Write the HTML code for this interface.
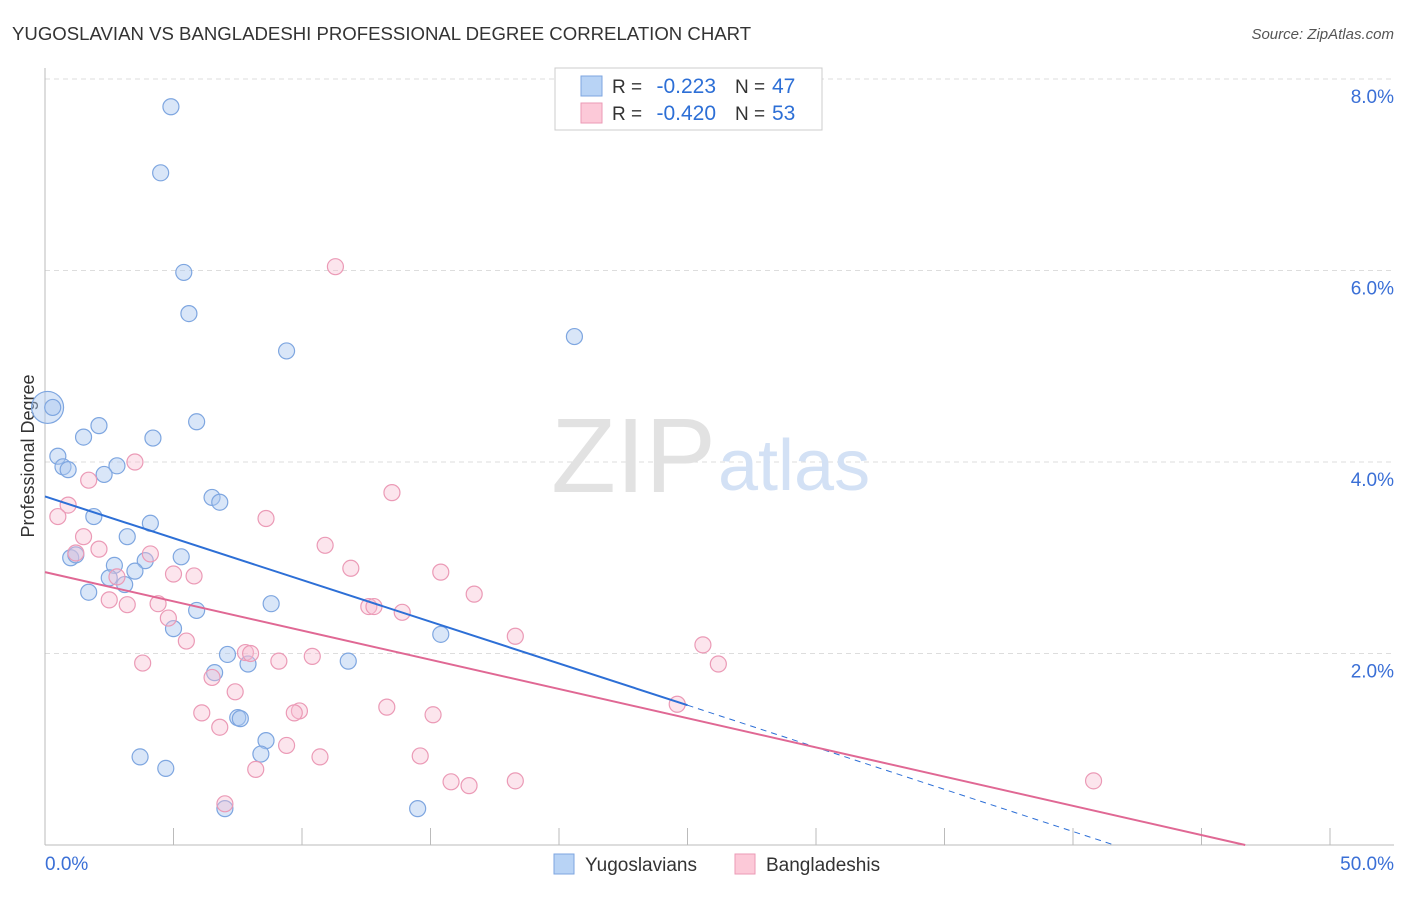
<!DOCTYPE html>
<html><head><meta charset="utf-8"><style>
body{margin:0;background:#fff;font-family:"Liberation Sans",sans-serif}
svg text{font-family:"Liberation Sans",sans-serif}
</style></head><body>
<svg id="c" width="1406" height="892"></svg>
<script>
const xTicks=[0,50];
const yTicks=[2,4,6,8];
const blueX=[4.9,4.5,5.4,5.6,9.4,20.6,0.1,0.3,5.9,2.1,1.5,4.2,0.5,0.7,0.9,2.8,2.3,6.5,6.8,1.9,4.1,3.2,5.3,3.9,1.0,1.2,2.7,3.5,2.5,3.1,1.7,5.9,8.8,5.0,15.4,7.1,11.8,6.6,7.9,7.5,7.6,8.6,8.4,3.7,4.7,7.0,14.5];
const blueY=[7.71,7.02,5.98,5.55,5.16,5.31,4.57,4.57,4.42,4.38,4.26,4.25,4.06,3.95,3.92,3.96,3.87,3.63,3.58,3.43,3.36,3.22,3.01,2.97,3.0,3.03,2.92,2.86,2.79,2.72,2.64,2.45,2.52,2.26,2.2,1.99,1.92,1.8,1.89,1.33,1.32,1.09,0.95,0.92,0.8,0.38,0.38];
const pinkX=[11.3,13.5,3.5,1.7,0.9,0.5,8.6,1.5,10.9,2.1,1.2,4.1,11.9,15.4,5.0,5.8,2.8,16.7,2.5,3.2,4.4,12.6,12.8,13.9,4.8,5.5,18.3,25.6,3.8,7.8,8.0,9.1,10.4,26.2,6.5,7.4,13.3,9.9,9.7,6.1,15.1,6.8,9.4,10.7,14.6,8.2,15.8,16.5,18.3,40.8,7.0,24.6];
const pinkY=[6.04,3.68,4.0,3.81,3.55,3.43,3.41,3.22,3.13,3.09,3.05,3.04,2.89,2.85,2.83,2.81,2.8,2.62,2.56,2.51,2.52,2.49,2.49,2.43,2.37,2.13,2.18,2.09,1.9,2.01,2.0,1.92,1.97,1.89,1.75,1.6,1.44,1.40,1.38,1.38,1.36,1.23,1.04,0.92,0.93,0.79,0.66,0.62,0.67,0.67,0.43,1.47];
const ns="http://www.w3.org/2000/svg",svg=document.getElementById('c');
const X=v=>45+v*25.7, Y=v=>845-v*95.75;
function el(t,a,txt){const e=document.createElementNS(ns,t);for(const k in a)e.setAttribute(k,a[k]);if(txt!=null)e.textContent=txt;svg.appendChild(e);return e;}
let e;
e=el('text',{x:12,y:40,'font-size':18.6,fill:'#333'},'YUGOSLAVIAN VS BANGLADESHI PROFESSIONAL DEGREE CORRELATION CHART');

e=el('text',{x:1394,y:39,'font-size':15,fill:'#555','text-anchor':'end','font-style':'italic'},'Source: ZipAtlas.com');

yTicks.forEach(v=>{e=el('line',{x1:45,x2:1394,y1:Y(v),y2:Y(v),stroke:'#ddd','stroke-dasharray':'5,4'});

e=el('text',{x:1394,y:Y(v)+24,'font-size':19,fill:'#3a6fd6','text-anchor':'end'},v.toFixed(1)+'%');
});
e=el('line',{x1:45,x2:45,y1:68,y2:845,stroke:'#bbb'});
e=el('line',{x1:45,x2:1394,y1:845,y2:845,stroke:'#bbb'});
for(let i=0;i<=10;i++){e=el('line',{x1:X(i*5),x2:X(i*5),y1:828,y2:845,stroke:'#bbb'});}
xTicks.forEach((v,i)=>{e=el('text',{x:i?1394:45,y:870,'font-size':19,fill:'#3a6fd6','text-anchor':i?'end':'start'},v.toFixed(1)+'%');
});
e=el('text',{x:34,y:456,'font-size':18,fill:'#333','text-anchor':'middle',transform:'rotate(-90 34 456)'},'Professional Degree');

e=el('text',{x:716,y:492,'font-size':106,fill:'#e2e2e2','text-anchor':'end','font-family':'Liberation Serif'},'ZIP');

e=el('text',{x:718,y:490,'font-size':72,fill:'#d3e1f5'},'atlas');

blueX.forEach((v,i)=>{e=el('circle',{cx:X(v),cy:Y(blueY[i]),r:i==6?16:8,fill:'rgba(170,200,240,0.45)',stroke:'#7ea6e0','stroke-width':1.2});
});
pinkX.forEach((v,i)=>{e=el('circle',{cx:X(v),cy:Y(pinkY[i]),r:8,fill:'rgba(248,190,210,0.4)',stroke:'#eb9ab6','stroke-width':1.2});
});
e=el('line',{x1:X(0),y1:Y(3.64),x2:X(25),y2:Y(1.46),stroke:'#2d6fd6','stroke-width':2});
e=el('line',{x1:X(25),y1:Y(1.46),x2:X(41.6),y2:Y(0),stroke:'#2d6fd6','stroke-width':1,'stroke-dasharray':'6,5'});
e=el('line',{x1:X(0),y1:Y(2.85),x2:X(46.7),y2:Y(0),stroke:'#e06894','stroke-width':2});
e=el('rect',{x:555,y:68,width:267,height:62,fill:'#fff',stroke:'#ccc'});
[['#b8d3f5','#7ea6e0','-0.223','47',86],['#fcc9d8','#eb9ab6','-0.420','53',113]].forEach(r=>{
e=el('rect',{x:581,y:r[4]-10,width:21,height:20,fill:r[0],stroke:r[1]});
e=el('text',{x:612,y:r[4]+7,'font-size':19,fill:'#333'},'R = ');
e=el('text',{x:716,y:r[4]+7,'font-size':21,fill:'#2d6fd6','text-anchor':'end'},r[2]);
e=el('text',{x:735,y:r[4]+7,'font-size':19,fill:'#333'},'N = ');
e=el('text',{x:772,y:r[4]+7,'font-size':21,fill:'#2d6fd6'},r[3]);});
[['#b8d3f5','#7ea6e0','Yugoslavians',554],['#fcc9d8','#eb9ab6','Bangladeshis',735]].forEach(r=>{
e=el('rect',{x:r[3],y:854,width:20,height:20,fill:r[0],stroke:r[1]});
e=el('text',{x:r[3]+31,y:871,'font-size':19,fill:'#333'},r[2]);});
</script>
</body></html>
